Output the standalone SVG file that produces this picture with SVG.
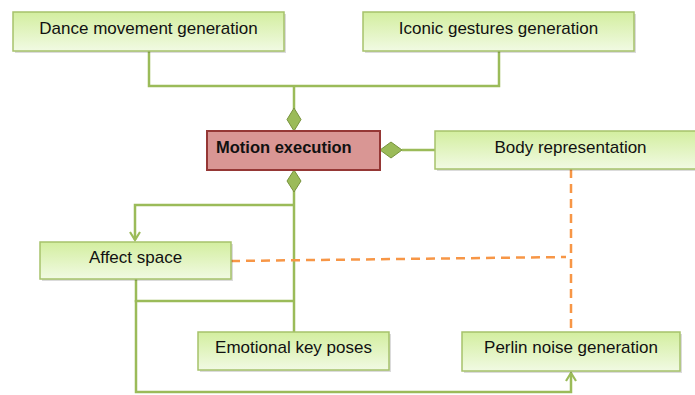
<svg xmlns="http://www.w3.org/2000/svg" width="695" height="395" viewBox="0 0 695 395">
<defs>
<linearGradient id="gg" x1="0" y1="0" x2="0" y2="1">
<stop offset="0" stop-color="#d3ee9f"/>
<stop offset="1" stop-color="#f1fae3"/>
</linearGradient>
<marker id="arr" viewBox="0 0 12 12" refX="10" refY="6" markerWidth="12" markerHeight="12" markerUnits="userSpaceOnUse" orient="auto">
<polyline points="2,1 10,6 2,11" fill="none" stroke="#9bbb59" stroke-width="2.2"/>
</marker>
</defs>
<style>
.box{fill:url(#gg);stroke:#a6c26b;stroke-width:1.5}
.sh{fill:#000;opacity:0.14}
.lbl{font-family:"Liberation Sans",Arial,sans-serif;font-size:17px;fill:#111;text-anchor:middle}
.conn{fill:none;stroke:#9bbb59;stroke-width:2.5}
.dash{fill:none;stroke:#f79646;stroke-width:2.5;stroke-dasharray:9,6}
.dia{fill:#9bbb59;stroke:#77933c;stroke-width:1}
</style>
<rect width="695" height="395" fill="#fff"/>
<g id="connectors">
<polyline class="conn" points="149,51 149,86 499,86 499,51"/>
<line class="conn" x1="294" y1="86" x2="294" y2="109"/>
<line class="conn" x1="402" y1="150" x2="435" y2="150"/>
<polyline class="conn" points="294,191 294,332"/>
<polyline class="conn" points="294,205 135,205 135,240" marker-end="url(#arr)"/>
<polyline class="conn" points="136,279 136,301 295,301"/>
<polyline class="conn" points="136,300 136,392 571,392 571,373" marker-end="url(#arr)"/>
<polyline class="dash" points="231,261 566,257"/>
<line class="dash" x1="571" y1="169" x2="571" y2="332"/>
<polygon class="dia" points="294,108 301,119.5 294,131 287,119.5"/>
<polygon class="dia" points="294,170 301,181 294,192 287,181"/>
<polygon class="dia" points="380,150 391,142 402,150 391,158"/>
</g>
<g id="dance">
<rect class="sh" x="15" y="14" width="271" height="39"/>
<rect class="box" x="13" y="12" width="271" height="39"/>
<text class="lbl" x="148.5" y="34">Dance movement generation</text>
</g>
<g id="iconic">
<rect class="sh" x="365" y="14" width="271" height="39"/>
<rect class="box" x="363" y="12" width="271" height="39"/>
<text class="lbl" x="498.5" y="34">Iconic gestures generation</text>
</g>
<g id="motion">
<rect x="207" y="131" width="173" height="39" fill="#d99694" stroke="#953735" stroke-width="2"/>
<text x="216" y="153" font-family="Liberation Sans,Arial,sans-serif" font-size="16.5px" font-weight="bold" fill="#111">Motion execution</text>
</g>
<g id="body">
<rect class="sh" x="437" y="133" width="271" height="38"/>
<rect class="box" x="435" y="131" width="271" height="38"/>
<text class="lbl" x="570.5" y="153">Body representation</text>
</g>
<g id="affect">
<rect class="sh" x="42" y="244" width="191" height="37"/>
<rect class="box" x="40" y="242" width="191" height="37"/>
<text class="lbl" x="135.5" y="263">Affect space</text>
</g>
<g id="emotional">
<rect class="sh" x="200" y="334" width="191" height="38"/>
<rect class="box" x="198" y="332" width="191" height="38"/>
<text class="lbl" x="293.5" y="353">Emotional key poses</text>
</g>
<g id="perlin">
<rect class="sh" x="464" y="334" width="218" height="39"/>
<rect class="box" x="462" y="332" width="218" height="39"/>
<text class="lbl" x="571" y="353">Perlin noise generation</text>
</g>
</svg>
